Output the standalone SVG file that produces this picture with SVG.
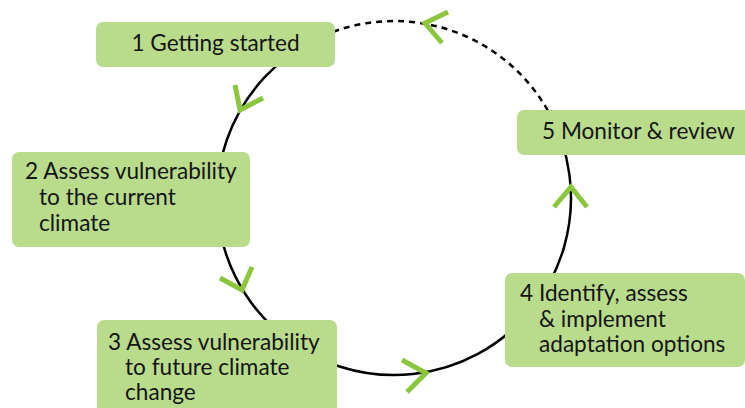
<svg xmlns="http://www.w3.org/2000/svg" width="745" height="408" viewBox="0 0 745 408">
<style>
.box{fill:#b9db8c;}
.t{font-family:Lato,"Open Sans","Liberation Sans",sans-serif;font-size:22.6px;fill:#151515;}
.arc{fill:none;stroke:#000;stroke-width:2.5;}
.dash{stroke-dasharray:6 5;}
.chev{fill:none;stroke:#8cc63f;stroke-width:5;stroke-linecap:butt;stroke-linejoin:miter;}
</style>
<rect width="745" height="408" fill="#fff"/>
<g id="connectors">
<path class="arc" d="M319.2,37.6 A177,177 0 1 0 547.7,110.3"/>
<path class="arc dash" d="M547.7,110.3 A177,177 0 0 0 319.2,37.6"/>
<polyline class="chev" points="235,85 240,110 263,98"/>
<polyline class="chev" points="220,278 242,290 252,267"/>
<polyline class="chev" points="402,360 426,373 407,392"/>
<polyline class="chev" points="554,207 571,187 587,207"/>
<polyline class="chev" points="448,12 425,23 442,43"/>
</g>
<g id="node1">
<rect class="box" x="96" y="22" width="239" height="45" rx="7"/>
<text class="t" x="215.5" y="51" text-anchor="middle">1 Getting started</text>
</g>
<g id="node2">
<rect class="box" x="12" y="152" width="238" height="95" rx="7"/>
<text class="t" x="25" y="179">2 Assess vulnerability</text>
<text class="t" x="39" y="205">to the current</text>
<text class="t" x="39" y="231">climate</text>
</g>
<g id="node3">
<rect class="box" x="97" y="320" width="240" height="100" rx="7"/>
<text class="t" x="108" y="350">3 Assess vulnerability</text>
<text class="t" x="125" y="375">to future climate</text>
<text class="t" x="125" y="400">change</text>
</g>
<g id="node4">
<rect class="box" x="505" y="273" width="240" height="94" rx="7"/>
<text class="t" x="520" y="301">4 Identify, assess</text>
<text class="t" x="539" y="327">&amp; implement</text>
<text class="t" x="539" y="352">adaptation options</text>
</g>
<g id="node5">
<rect class="box" x="517" y="110" width="240" height="45" rx="7"/>
<text class="t" x="542" y="139">5 Monitor &amp; review</text>
</g>
</svg>
